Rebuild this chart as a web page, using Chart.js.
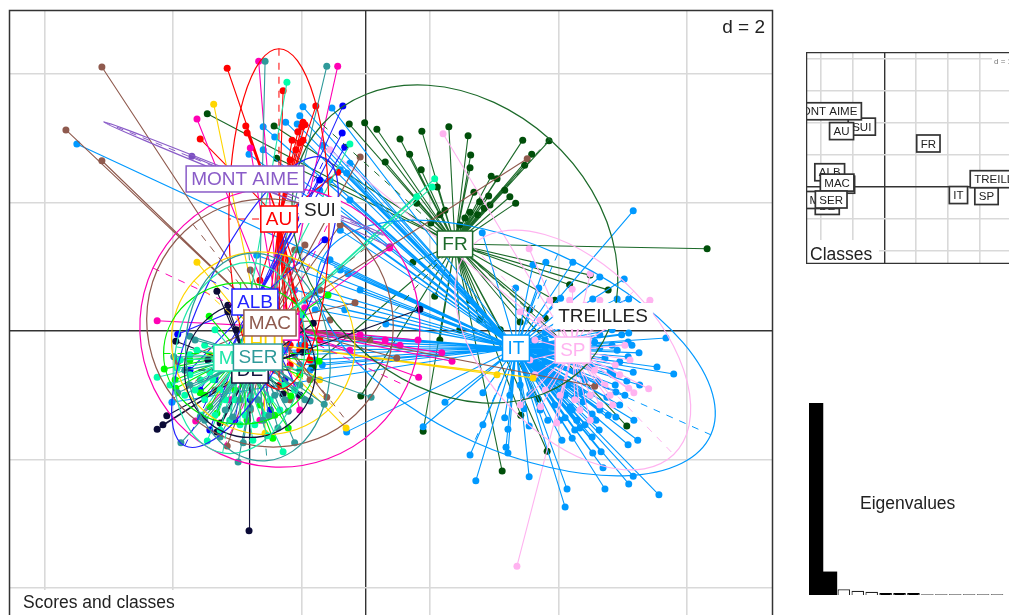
<!DOCTYPE html>
<html>
<head>
<meta charset="utf-8">
<script src="https://cdn.jsdelivr.net/npm/chart.js@4"></script>
<style>
  html, body { margin: 0; padding: 0; background: #fff; overflow: hidden; }
  canvas { position: absolute; }
  #scores { left: 0px; top: 0px; }
  #classes { left: 806px; top: 52px; }
  #eigen { left: 809px; top: 403px; }
</style>
</head>
<body>
<canvas id="scores" width="1009" height="615"></canvas>
<canvas id="classes" width="203" height="212"></canvas>
<canvas id="eigen" width="195" height="192"></canvas>
<script>
// scores per class
const frPoints = [[.87,3.11],[1.29,3.18],[1.59,3.04],[1.63,2.74],[1.62,2.54],[2.44,2.97],[2.85,2.96],[2.58,2.75],[1.95,2.41],[2.04,2.37],[2.33,1.99],[1.91,2.10],[1.77,2.01],[1.68,2.16],[1.62,1.85],[.68,2.75],[.86,2.51],[1.11,2.24],[.79,1.99],[5.31,1.28],[3.77,.64],[.53,2.99],[1.07,.54],[.73,1.07],[-.26,3.22],[-.02,3.24],[.17,3.14],[.30,2.63],[1.01,1.68],[-2.47,3.38],[-1.43,3.19],[-1.39,2.69],[.89,-1.56],[2.12,-2.18],[2.41,-1.31],[2.68,-1.06],[2.82,-1.87],[4.06,-1.48],[-.08,-1.01],[-.84,-.56],[2.79,.20],[2.94,.48],[2.55,.33],[2.40,.14],[2.09,.02],[3.17,.72],[3.49,.87],[2.47,2.58],[2.16,2.19],[2.24,2.09],[1.74,1.81],[1.84,1.91],[1.93,1.96],[1.54,1.76],[1.46,1.65],[1.23,1.88],[1.15,1.81],[1.62,.48],[1.77,.17],[1.46,.02],[1.15,-.14]]
const itPoints = [[1.23,-1.11],[.89,-1.49],[1.62,-1.93],[1.71,-2.33],[1.82,-.96],[1.82,-1.46],[2.16,-1.35],[2.21,-1.53],[2.18,-1.81],[2.21,-1.90],[2.54,-2.27],[2.54,-1.48],[2.46,-1.21],[3.13,-2.46],[3.10,-2.74],[3.05,-1.70],[3.21,-1.67],[3.10,-1.35],[3.52,-1.29],[3.63,-1.54],[3.53,-1.90],[3.66,-1.88],[3.69,-2.13],[3.72,-2.46],[4.09,-2.38],[4.16,-2.26],[4.56,-2.55],[4.08,-1.77],[4.23,-1.70],[4.17,-1.39],[3.89,-1.34],[3.89,-.95],[4.06,-.78],[4.16,-.64],[4.53,-.56],[4.79,-.67],[4.25,-.34],[4.08,-.40],[4.08,-.17],[4.09,-.03],[4.67,-.11],[3.91,-.30],[3.52,-1.65],[3.33,-1.51],[3.28,-1.39],[3.64,-1.23],[3.75,-1.03],[3.36,-.95],[3.18,-1.18],[3.84,-.68],
  [4.16,1.87],[1.81,1.53],[2.33,.67],[2.60,1.03],[2.80,1.07],[3.22,1.07],[3.64,.84],[4.02,.81],[2.69,.67],[3.03,.51],[3.53,.50],[3.91,.50],[4.09,.50],
  [-4.50,2.91],[-.98,3.49],[-1.03,3.35],[-1.07,3.22],[-1.25,3.25],[-1.60,3.18],[-1.42,3.02],[-1.60,2.82],[-1.82,2.75],[-.53,3.47],[-.25,2.61],[-.30,2.46],[-.67,2.89],[-1.03,1.26],[-.28,.89],[-1.70,1.18],[-.68,-.53],[-.30,-1.57],[.31,.11],[-3.02,-1.11],
  [-1.03,-.22],[-.87,-.30],[-1.11,-.37],[-.95,-.14],[-.79,-.45],[-1.03,-.06],[-1.18,.02],[-1.26,-.30],[-.56,-.06],[-.72,-.14],[-1.03,-.53],[-.87,-.61],[-.95,.48],[-1.11,.64],[-.72,.64],[-.40,.95],[-.56,1.11],[-1.18,1.11],[-.79,.33],[-.33,.33],[-.09,.64],[-.40,1.57],[-.25,2.04],[-.56,2.35],[-.40,2.51],[-.72,2.19],[-.87,2.04],
  [2.79,-.22],[2.86,-.37],[2.71,-.53],[2.83,-.64],[2.63,-.73],[2.94,-.76],[3.02,-.95],[3.14,-.84],[3.25,-1.04],[3.38,-1.10],[3.49,-1.0],[3.41,-.76],[3.61,-.79],[3.80,-.61],[3.72,-.42],[3.64,-.26],[3.83,-.22],[3.56,-.17],[3.49,-.53],[3.30,-.64],[2.63,-.2],[2.71,-.37],[2.55,-.45],[2.79,-.48],
  [2.79,-.30],[2.89,-.22],[2.79,-.14],[2.89,-.06],[2.79,-.02],[2.89,-.53],[2.83,-.76],[3.10,-1.0],[3.21,-1.23],[3.41,-1.46],[3.58,-1.39],[3.77,-1.31],[3.95,-1.15],[3.88,-.84],[4.03,-1.0],[3.95,-.48],[4.14,-.22],[3.98,-.06],[3.83,.02],[3.64,-.06],[4.26,-.84],[2.94,-1.15],[3.02,-1.39],[3.25,-1.54],[2.83,-1.39],[2.71,-1.23],[2.55,-.99],[2.40,-.84],[2.24,-1.0]]
const spPoints = [[1.20,3.07],[2.54,1.28],[3.49,.89],[3.21,.65],[4.42,.48],[2.40,.30],[2.35,-3.66],[2.97,-1.43],[2.72,-1.18],[2.40,-1.15],[4.40,-.90],[4.17,-.96],[4.09,-.89],[3.84,-1.15],[3.64,.48],[3.80,.33],[3.41,.40],[3.02,.17],[3.95,.17],[4.03,-.22],[3.88,-.53],[3.72,-.84],[3.49,-1.00],[3.25,-1.07],[3.02,-1.0],[2.79,-.92],[2.63,-.68],[2.55,-.45],[2.63,-.14],[2.71,.17],[2.86,.48],[3.17,.48],[3.56,-.61],[3.64,-1.15],[3.33,-1.23],[3.49,-1.39],[3.80,-1.0],[3.95,-.68],[4.11,-.45],[-.56,2.82]]
const auPoints = [[-2.16,4.09],[-2.58,2.99],[-1.87,3.19],[-1.85,3.08],[-1.29,3.74],[-.78,3.50],[-.98,3.25],[-1.0,3.18],[-.95,3.21],[-1.06,3.10],[-.98,2.97],[-1.03,2.93],[-.44,2.47],[-1.03,-.30],[-1.42,-.61],[-1.18,-.22],[-1.26,.02],[-1.49,.48],[-1.65,.79],[-1.57,-.30],[-1.18,-.53],[-.95,-.22],[-1.03,.17],[-.87,-.45],[-1.11,.48],[-1.26,.95],[-1.42,.64],[-.72,-.14],[-1.34,-.84],[-1.15,2.97],[-1.09,2.82],[-1.18,2.66]]
const albPoints = [[-.36,3.50],[-.37,3.08],[-.33,2.86],[-2.93,-.05],[-1.34,-.06],[-2.04,-1.39],[-2.58,-.92],[-2.43,-1.54],[-1.80,-1.07],[-1.03,-1.0],[-2.74,-.61],[-2.35,-.76],[-1.49,-1.23],[-2.12,-.30],[-1.26,-.76],[-.72,2.35],[-.64,1.42]]
const macPoints = [[-4.11,4.11],[-4.67,3.13],[-4.11,2.65],[-.40,1.65],[-.09,2.71],[-.17,.44],[-.61,-1.03],[.48,-.42],[-2.16,-1.79],[3.56,-.86],[2.51,2.68],[-2.93,-.48],[-.87,-.76],[-1.18,-1.07],[-1.80,-1.23],[-2.35,-.92],[.06,-.14],[-.72,.64],[-.95,1.34],[-1.11,1.26],[-.56,.17],[-1.80,.95]]
const magentaPoints = [[-1.67,4.20],[-.44,4.12],[-2.63,3.30],[-1.80,2.85],[-3.25,.16],[.81,-.14],[1.34,-.47],[.82,-.72],[1.18,-.34],[-2.65,-1.40],[-.95,.36],[.30,-.14],[.53,-.22],[-.09,-.06],[-.25,-.30],[-2.12,-1.07],[-1.65,-1.39],[-1.03,-1.23],[.37,1.29]]
const yellowPoints = [[-2.37,3.53],[-2.63,1.07],[-.31,-1.51],[-1.57,-1.59],[2.60,-.73],[2.04,-.68],[-2.12,-.61],[-1.18,-1.07],[-.72,-.76],[-2.43,-.37],[-1.96,.02]]
const serPoints = [[-1.57,4.20],[-.61,4.12],[-2.88,-1.74],[-1.99,-2.04],[-1.91,-1.74],[-1.11,-1.74],[-1.21,-1.25],[-1.37,-1.51],[-1.51,-1.32],[-.87,-1.09],[-.65,-1.14],[.08,-1.03],[-2.74,-.08],[-2.99,-.40],[-2.93,-.96],[-1.80,-1.20],[-1.60,-1.39],[-2.27,-1.65],[-2.58,-1.34],[-2.07,-1.34],
  [-2.74,-.84],[-2.51,-1.39],[-2.19,-1.23],[-1.96,-1.07],[-1.68,-1.07],[-1.42,-1.0],[-1.03,-.84],[-2.82,-.61],[-2.66,-.14],[-1.26,-1.07],[-.95,-1.07]]
const springPoints = [[-1.23,3.87],[-.25,2.91],[1.07,2.37],[1.03,2.24],[.79,2.09],[-1.29,-1.88],[-1.76,-1.70],[-1.53,-1.63],[-2.47,-1.71],[-2.57,-1.31],[-3.25,-.72],[-2.94,-.58],[-2.58,-.76],[-2.38,-.76],[-2.27,-1.54],[-1.96,-1.46],[-2.66,-.92],[-2.19,-1.07],[-1.49,-1.07],[-1.26,-.84],[-2.74,-.37],[-2.51,-.22],[-2.35,.02],[-.99,.25],
  [-2.51,-1.07],[-2.35,-1.31],[-2.12,-1.39],[-1.88,-1.31],[-1.73,-1.46],[-1.57,-1.31],[-1.34,-1.23],[-2.74,-.68],[-2.89,-.45],[-3.05,-.84],[-2.82,-1.0],[-2.04,-1.07],[-1.80,-1.0],[-1.11,-.92],[-1.03,-.61],[-2.63,-.30],[-2.43,-.64],[-2.27,-.92]]
const greenPoints = [[-3.14,-.59],[-2.96,-.89],[-2.32,-1.28],[-1.45,-1.67],[-1.21,-1.51],[-1.17,-1.01],[-.73,-.47],[-.59,.56],[-2.44,.23],[-2.97,-.76],[-1.85,-1.39],[-2.58,-.96],[-2.43,-1.18],[-2.04,-.92],[-1.65,-1.15],[-2.51,-1.0],[-2.74,-.45],[-1.42,-1.31],[-1.03,-.68]]
const navyPoints = [[-1.82,-3.11],[-3.25,-1.53],[-3.16,-1.46],[-3.10,-1.32],[-2.96,-.16],[-2.32,.62],[-2.15,.40],[-2.15,.30],[-2.02,.02],[-2.46,-.45],[-2.32,-1.57],[.84,.34],[-.98,-.33],[-1.29,-.98],[-.82,.12],[-2.27,-1.43],[-1.03,-1.0]]
const montPoints = [[-2.71,2.72],[.37,1.31]]

// class table, in drawing order
const classNames = ['FR', 'IT', 'SP', 'TREILLES', 'SUI', 'MONT AIME', 'AU', 'MA', 'HU', 'ALB', 'MAC', '', 'DE', 'MAS', 'SER']
const classColors = ['#1c6a2a', '#0099ff', '#ffb3f0', '#222222', '#222222', '#8a5cc8', '#ff0000', '#ff00b4', '#ffd500', '#2222ff', '#8f5a4e', '#00ee00', '#14143c', '#1fe6a8', '#2f9a9a']
const dotColors = ['#004f0a', '#0099ff', '#ffb3f0', '#222222', '#222222', '#7a4fc0', '#ff0000', '#ff00b4', '#ffd500', '#0000ff', '#8f5a4e', '#00ff00', '#0a0a36', '#00ffaa', '#2f9a9a']
const classPoints = [frPoints, itPoints, spPoints, [], [], montPoints, auPoints, magentaPoints, yellowPoints, albPoints, macPoints, greenPoints, navyPoints, springPoints, serPoints]
const centerX = [1.385, 2.335, 3.22, 3.69, -.716, -1.883, -1.354, -1.34, -1.60, -1.728, -1.494, -1.95, -1.805, -1.97, -1.681]
const centerY = [1.354, -.265, -.296, .233, 1.883, 2.366, 1.743, .06, -.19, .451, .125, -.35, -.607, -.42, -.405]
// ellipse half axes and tilt in degrees, 0 where a class has none
const ellipseA = [2.78, 3.32, 2.26, 0, 0, 2.37, 2.65, 2.18, 1.45, 2.49, 1.95, 1.2, 1.02, 1.5, 1.62]
const ellipseB = [2.20, 1.60, 1.32, 0, 0, .04, .78, 2.18, 1.40, .78, 1.90, 1.1, 1.05, 1.0, 1.12]
const ellipseTilt = [42, 24, 46, 0, 0, 22, 90, 25, 42, -64, 52, 0, 0, -80, 85]

const eigenvalues = [191, 23, 5.7, 4.3, 3.3, 2, 2, 2, 1, 1, 1, 1, 1, 1]
const keptAxes = 2

const gridColor = '#d9d9d9'
const axisColor = '#333333'
const fontName = '"Liberation Sans", Arial, sans-serif'

function putText(ctx, text, x, y, size, color, align) {
  ctx.font = size + 'px ' + fontName
  ctx.fillStyle = color
  ctx.textAlign = align || 'left'
  ctx.textBaseline = 'alphabetic'
  ctx.fillText(text, x, y)
}

function classBox(ctx, text, px, py, size, color, border, lineWidth, padX, boxH) {
  if (!text) return
  ctx.font = size + 'px ' + fontName
  const w = ctx.measureText(text).width + padX * 2
  ctx.fillStyle = '#fff'
  ctx.fillRect(px - w / 2, py - boxH / 2, w, boxH)
  if (border) {
    ctx.strokeStyle = border
    ctx.lineWidth = lineWidth
    ctx.strokeRect(px - w / 2, py - boxH / 2, w, boxH)
  }
  ctx.textAlign = 'center'
  ctx.textBaseline = 'middle'
  ctx.fillStyle = color
  ctx.fillText(text, px, py + 1)
}

// frame runs on past the page on the sides given by extra
function frame(chart, width, extraRight, extraBottom) {
  const { ctx, chartArea: a } = chart
  ctx.save()
  ctx.strokeStyle = axisColor
  ctx.lineWidth = width
  ctx.strokeRect(a.left + .5, a.top + .5, a.right - a.left + extraRight, a.bottom - a.top + extraBottom)
  ctx.restore()
}

const scoresPlugin = {
  id: 'scoresExtras',
  afterDatasetsDraw(chart) {
    const { ctx, chartArea: a, scales: { x, y } } = chart
    const unit = x.getPixelForValue(1) - x.getPixelForValue(0)
    ctx.save()
    ctx.beginPath()
    ctx.rect(a.left, a.top, a.right - a.left, a.bottom - a.top)
    ctx.clip()
    classNames.forEach((name, i) => {
      if (!ellipseA[i]) return
      const cx = x.getPixelForValue(centerX[i])
      const cy = y.getPixelForValue(centerY[i])
      const ra = ellipseA[i] * unit
      const rb = ellipseB[i] * unit
      const t = ellipseTilt[i] * Math.PI / 180
      ctx.strokeStyle = classColors[i]
      ctx.lineWidth = 1.2
      ctx.setLineDash([])
      ctx.beginPath()
      ctx.ellipse(cx, cy, ra, rb, t, 0, Math.PI * 2)
      ctx.stroke()
      // dashed axes of the ellipse
      ctx.lineWidth = 1
      ctx.setLineDash([7, 7])
      ctx.beginPath()
      ctx.moveTo(cx - ra * Math.cos(t), cy - ra * Math.sin(t))
      ctx.lineTo(cx + ra * Math.cos(t), cy + ra * Math.sin(t))
      ctx.moveTo(cx + rb * Math.sin(t), cy - rb * Math.cos(t))
      ctx.lineTo(cx - rb * Math.sin(t), cy + rb * Math.cos(t))
      ctx.stroke()
    })
    ctx.setLineDash([])
    classNames.forEach((name, i) => {
      const plain = name === 'SUI' || name === 'TREILLES'
      classBox(ctx, name, x.getPixelForValue(centerX[i]), y.getPixelForValue(centerY[i]), 19,
        classColors[i], plain ? null : classColors[i], 1.5, 5, 26)
    })
    // corner captions sit on white patches
    ctx.fillStyle = '#fff'
    ctx.fillRect(a.left, 590, 172, 25)
    ctx.fillRect(717, a.top, 55, 30)
    ctx.restore()
    putText(ctx, 'Scores and classes', 23, 608, 17.5, '#222')
    putText(ctx, 'd = 2', 765, 33, 19, '#222', 'right')
    frame(chart, 1.5, 0, 10)
  }
}

const classesPlugin = {
  id: 'classesExtras',
  afterDatasetsDraw(chart) {
    const { ctx, chartArea: a, scales: { x, y } } = chart
    ctx.save()
    ctx.beginPath()
    ctx.rect(a.left, a.top, a.right - a.left, a.bottom - a.top)
    ctx.clip()
    classNames.forEach((name, i) => {
      classBox(ctx, name, x.getPixelForValue(centerX[i]), y.getPixelForValue(centerY[i]), 11.5,
        '#222', '#333', 1.7, 4, 17)
    })
    ctx.fillStyle = '#fff'
    ctx.fillRect(a.left, 188, 73, 24)
    ctx.fillRect(186, 4, 17, 10)
    ctx.restore()
    putText(ctx, 'Classes', 4, 208, 17.5, '#222')
    putText(ctx, 'd = 1', 188, 12, 8, '#777')
    frame(chart, 1.5, 10, -1)
  }
}

const eigenPlugin = {
  id: 'eigenCaption',
  afterDraw(chart) {
    putText(chart.ctx, 'Eigenvalues', 51, 106, 17.5, '#222')
  }
}

function mapScales(xRange, yRange, xTicks, yTicks) {
  const axis = (range, ticks) => ({
    type: 'linear',
    min: range[0],
    max: range[1],
    border: { display: false },
    grid: {
      drawTicks: false,
      color: c => c.tick && c.tick.value === 0 ? axisColor : gridColor,
      lineWidth: c => c.tick && c.tick.value === 0 ? 1.4 : 1.6
    },
    ticks: { display: false },
    afterBuildTicks: s => { s.ticks = ticks.map(value => ({ value })) }
  })
  const xAxis = axis(xRange, xTicks)
  const yAxis = axis(yRange, yTicks)
  xAxis.afterFit = s => { s.height = 0 }
  yAxis.afterFit = s => { s.width = 0 }
  return { x: xAxis, y: yAxis }
}

const base = {
  responsive: false,
  animation: false,
  plugins: { legend: { display: false }, tooltip: { enabled: false } }
}

// one star per class: centre -> score -> centre -> ...
const starSets = classNames.map((name, i) => ({
  data: classPoints[i].flatMap(p => [{ x: centerX[i], y: centerY[i] }, { x: p[0], y: p[1] }]),
  showLine: true,
  borderColor: classColors[i],
  borderWidth: 1.1,
  tension: 0,
  pointRadius: c => c.dataIndex % 2 ? 3.5 : 0,
  pointBorderWidth: 0,
  pointBackgroundColor: dotColors[i],
  order: classNames.length - i
}))

new Chart('scores', {
  type: 'scatter',
  data: { datasets: starSets },
  options: {
    ...base,
    layout: { autoPadding: false, padding: { left: 9, top: 10, right: 237, bottom: 0 } },
    scales: mapScales([-5.556, 6.32], [-4.42, 4.996], [-5, -3, -1, 0, 1, 3, 5], [-4, -2, 0, 2, 4])
  },
  plugins: [scoresPlugin]
})

new Chart('classes', {
  type: 'scatter',
  data: { datasets: [{ data: [] }] },
  options: {
    ...base,
    layout: { autoPadding: false },
    scales: mapScales([-2.476, 3.93], [-2.43, 4.227], [-2, -1, 0, 1, 2, 3], [-2, -1, 0, 1, 2, 3, 4])
  },
  plugins: [classesPlugin]
})

// kept axes are solid and touch, the others are small boxes with a gap;
// the smallest ones only show as a dark or grey dash
const tailFill = eigenvalues.map(v => v > 2 ? '#fff' : v > 1 ? '#000' : '#777')
const tailEdge = eigenvalues.map(v => v > 2 ? '#222' : v > 1 ? '#000' : '#777')
new Chart('eigen', {
  type: 'bar',
  data: {
    labels: eigenvalues.map((v, i) => i + 1),
    datasets: [{
      data: eigenvalues.map((v, i) => i < keptAxes ? v : null),
      backgroundColor: '#000',
      borderWidth: 0,
      categoryPercentage: 1,
      barPercentage: 1
    }, {
      data: eigenvalues.map((v, i) => i < keptAxes ? null : v),
      backgroundColor: tailFill,
      borderColor: tailEdge,
      borderWidth: 1.2,
      categoryPercentage: 1,
      barPercentage: .9
    }]
  },
  options: {
    ...base,
    layout: { autoPadding: false },
    scales: {
      x: { display: false, stacked: true },
      y: { display: false, stacked: true, min: 0, max: 191 }
    }
  },
  plugins: [eigenPlugin]
})
</script>
</body>
</html>
